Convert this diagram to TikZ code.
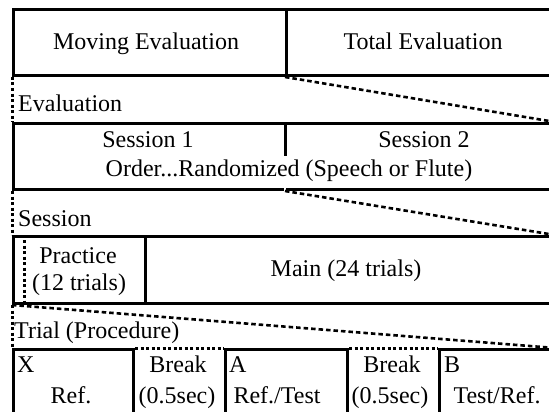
\documentclass[tikz,border=0pt]{standalone}
\usepackage{fontspec}
\setmainfont{Liberation Serif}
\usetikzlibrary{positioning}

\begin{document}
\begin{tikzpicture}[x=1pt,y=-1pt,
	every node/.style={font=\fontsize{24}{27}\selectfont},
	box/.style={draw,line width=3pt,inner sep=0pt,anchor=north west},
	txt/.style={inner sep=0pt,anchor=base},
	levellabel/.style={inner sep=0pt,anchor=base west},
	dots/.style={line width=3pt,dash pattern=on 3pt off 2.5pt},
	zoomline/.style={line width=2.6pt,dash pattern=on 4.5pt off 3pt}]
	\useasboundingbox (0,0) rectangle (549,412);
	% level 1
	\node[box,minimum width=273pt,minimum height=66pt] (moving) at (12,8) {};
	\node[box,minimum width=267pt,minimum height=66pt] (total) at (285,8) {};
	\node[txt] (movingtxt) at (146,50) {Moving Evaluation};
	\node[txt] (totaltxt) at (423,50) {Total Evaluation};
	% level 2
	\node[levellabel] (evallabel) at (18,111) {Evaluation};
	\node[box,minimum width=540pt,minimum height=66pt] (sess) at (12,122) {};
	\coordinate (divtop) at (total.south west |- sess.north);
	\coordinate (divmid) at ([shift={(0,34)}]divtop);
	\coordinate (divbot) at (total.south west |- sess.south);
	\draw[line width=3pt] (divtop) -- (divmid);
	\draw[draw=gray,line width=0.6pt,double=white,double distance=1.4pt] (divmid) -- (divbot);
	\node[txt] (s1) at (148,147) {Session 1};
	\node[txt] (s2) at (424,147) {Session 2};
	\node[txt] (order) at (289,176) {Order...Randomized (Speech or Flute)};
	\draw[dots] (moving.south west) -- (sess.north west);
	\draw[zoomline] (total.south west) -- (sess.north east);
	% level 3
	\node[levellabel] (sesslabel) at (18,226) {Session};
	\node[box,minimum width=132pt,minimum height=67pt] (practice) at (12,235) {};
	\node[box,minimum width=408pt,minimum height=67pt] (main) at (144,235) {};
	\node[txt] (practicetxt) at (78,263) {Practice};
	\node[txt] (trialstxt) at (79,290) {(12 trials)};
	\node[txt] (maintxt) at (346,276) {Main (24 trials)};
	\draw[dots] ([shift={(12,5)}]practice.north west) -- ([shift={(12,-3)}]practice.south west);
	\draw[dots] (sess.south west) -- (practice.north west);
	\draw[zoomline] (divbot) -- (main.north east);
	% level 4
	\node[levellabel] (triallabel) at (14,338) {Trial (Procedure)};
	\node[box,minimum width=120pt,minimum height=82pt] (x) at (12,348) {};
	\node[box,minimum width=122pt,minimum height=82pt] (a) at (224,348) {};
	\node[box,minimum width=114pt,minimum height=82pt] (b) at (438,348) {};
	\node[levellabel] (xlab) at (17,372) {X};
	\node[txt] (xref) at (71,403) {Ref.};
	\node[txt] (brk1) at (178,372) {Break};
	\node[txt] (brk1t) at (177,403) {(0.5sec)};
	\node[levellabel] (alab) at (229,372) {A};
	\node[txt] (aref) at (277,403) {Ref./Test};
	\node[txt] (brk2) at (392,372) {Break};
	\node[txt] (brk2t) at (390,403) {(0.5sec)};
	\node[levellabel] (blab) at (444,372) {B};
	\node[txt] (bref) at (497,403) {Test/Ref.};
	\draw[dots] (x.north east) -- (a.north west);
	\draw[dots] (a.north east) -- (b.north west);
	\draw[dots] (practice.south west) -- (x.north west);
	\draw[zoomline] (practice.south west) -- (b.north east);
\end{tikzpicture}
\end{document}
